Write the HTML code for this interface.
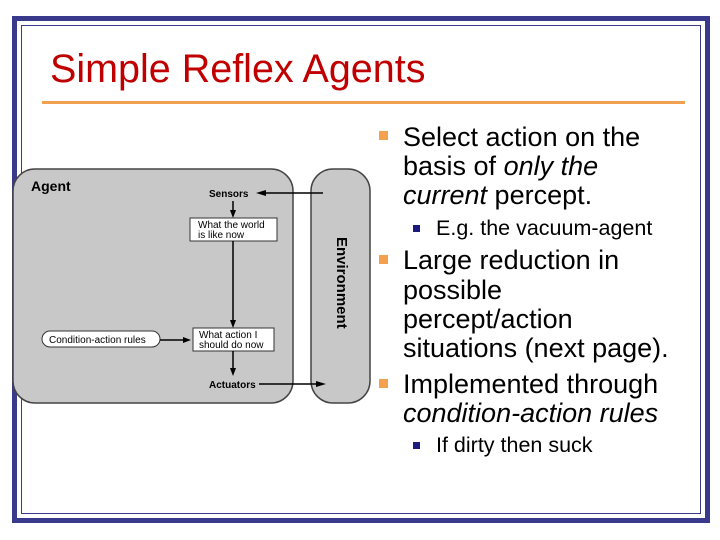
<!DOCTYPE html>
<html><head><style>
body{margin:0;width:720px;height:540px;background:#fff;position:relative;overflow:hidden;font-family:"Liberation Sans",sans-serif}
.a{position:absolute;white-space:nowrap}
.t{font-size:27px;color:#000;line-height:30px;height:30px}
.s{font-size:21.5px;line-height:24px;height:24px}
.ob{position:absolute;width:9px;height:9px;background:#f5a04e}
.bb{position:absolute;width:7px;height:7px;background:#1a1a80}
</style></head><body>
<div class="a" style="left:12px;top:16px;width:688px;height:497px;border:5px solid #3a3a8c"></div>
<div class="a" style="left:21px;top:25px;width:678px;height:487px;border:1px solid #3a3a8c"></div>
<div class="a" style="left:50px;top:47px;font-size:39.5px;color:#c00000">Simple Reflex Agents</div>
<div class="a" style="left:42px;top:101px;width:643px;height:3px;background:#f0a050"></div>

<svg class="a" style="left:0;top:160px" width="380" height="250">
<rect x="13" y="9" width="280" height="234" rx="22" fill="#c8c8c8" stroke="#444" stroke-width="1.5"/>
<rect x="311" y="9" width="59" height="234" rx="22" fill="#c8c8c8" stroke="#444" stroke-width="1.5"/>
<rect x="12" y="0" width="4" height="6" fill="#3a3a8c"/>
<rect x="12" y="244" width="4" height="6" fill="#3a3a8c"/>
<text x="31" y="31" font-size="14" font-family="Liberation Sans" font-weight="bold">Agent</text>
<text x="209" y="37" font-size="10" font-family="Liberation Sans" font-weight="bold">Sensors</text>
<line x1="323" y1="33" x2="262" y2="33" stroke="#000" stroke-width="1.5"/>
<polygon points="256,33 266,30 266,36"/>
<line x1="233" y1="41" x2="233" y2="53" stroke="#000" stroke-width="1.5"/>
<polygon points="233,58 230,50 236,50"/>
<rect x="190" y="58" width="87" height="23" fill="#fff" stroke="#333"/>
<text x="198" y="68" font-size="10" font-family="Liberation Sans">What the world</text>
<text x="198" y="78" font-size="10" font-family="Liberation Sans">is like now</text>
<line x1="233" y1="81" x2="233" y2="162" stroke="#000" stroke-width="1.5"/>
<polygon points="233,168 230,160 236,160"/>
<rect x="193" y="168" width="81" height="23" fill="#fff" stroke="#333"/>
<text x="199" y="178" font-size="10" font-family="Liberation Sans">What action I</text>
<text x="199" y="188" font-size="10" font-family="Liberation Sans">should do now</text>
<rect x="42" y="171" width="118" height="16" rx="8" fill="#fff" stroke="#333"/>
<text x="49" y="183" font-size="10" font-family="Liberation Sans">Condition-action rules</text>
<line x1="160" y1="180" x2="185" y2="180" stroke="#000" stroke-width="1.5"/>
<polygon points="191,180 183,177 183,183"/>
<line x1="233" y1="191" x2="233" y2="210" stroke="#000" stroke-width="1.5"/>
<polygon points="233,216 230,208 236,208"/>
<text x="209" y="228" font-size="10" font-family="Liberation Sans" font-weight="bold">Actuators</text>
<line x1="259" y1="224" x2="318" y2="224" stroke="#000" stroke-width="1.5"/>
<polygon points="326,224 316,221 316,227"/>
<text transform="translate(337,77) rotate(90)" font-size="15" font-family="Liberation Sans" font-weight="bold">Environment</text>
</svg>

<div class="ob" style="left:379px;top:131px"></div>
<div class="a t" style="left:403px;top:122px">Select action on the</div>
<div class="a t" style="left:403px;top:151px">basis of <i>only the</i></div>
<div class="a t" style="left:403px;top:180px"><i>current</i> percept.</div>
<div class="bb" style="left:413px;top:225px"></div>
<div class="a t s" style="left:436px;top:216px">E.g. the vacuum-agent</div>
<div class="ob" style="left:379px;top:255px"></div>
<div class="a t" style="left:403px;top:245px">Large reduction in</div>
<div class="a t" style="left:403px;top:275px">possible</div>
<div class="a t" style="left:403px;top:304px">percept/action</div>
<div class="a t" style="left:403px;top:333px">situations (next page).</div>
<div class="ob" style="left:379px;top:379px"></div>
<div class="a t" style="left:403px;top:369px">Implemented through</div>
<div class="a t" style="left:403px;top:398px"><i>condition-action rules</i></div>
<div class="bb" style="left:413px;top:442px"></div>
<div class="a t s" style="left:436px;top:433px">If dirty then suck</div>
</body></html>
